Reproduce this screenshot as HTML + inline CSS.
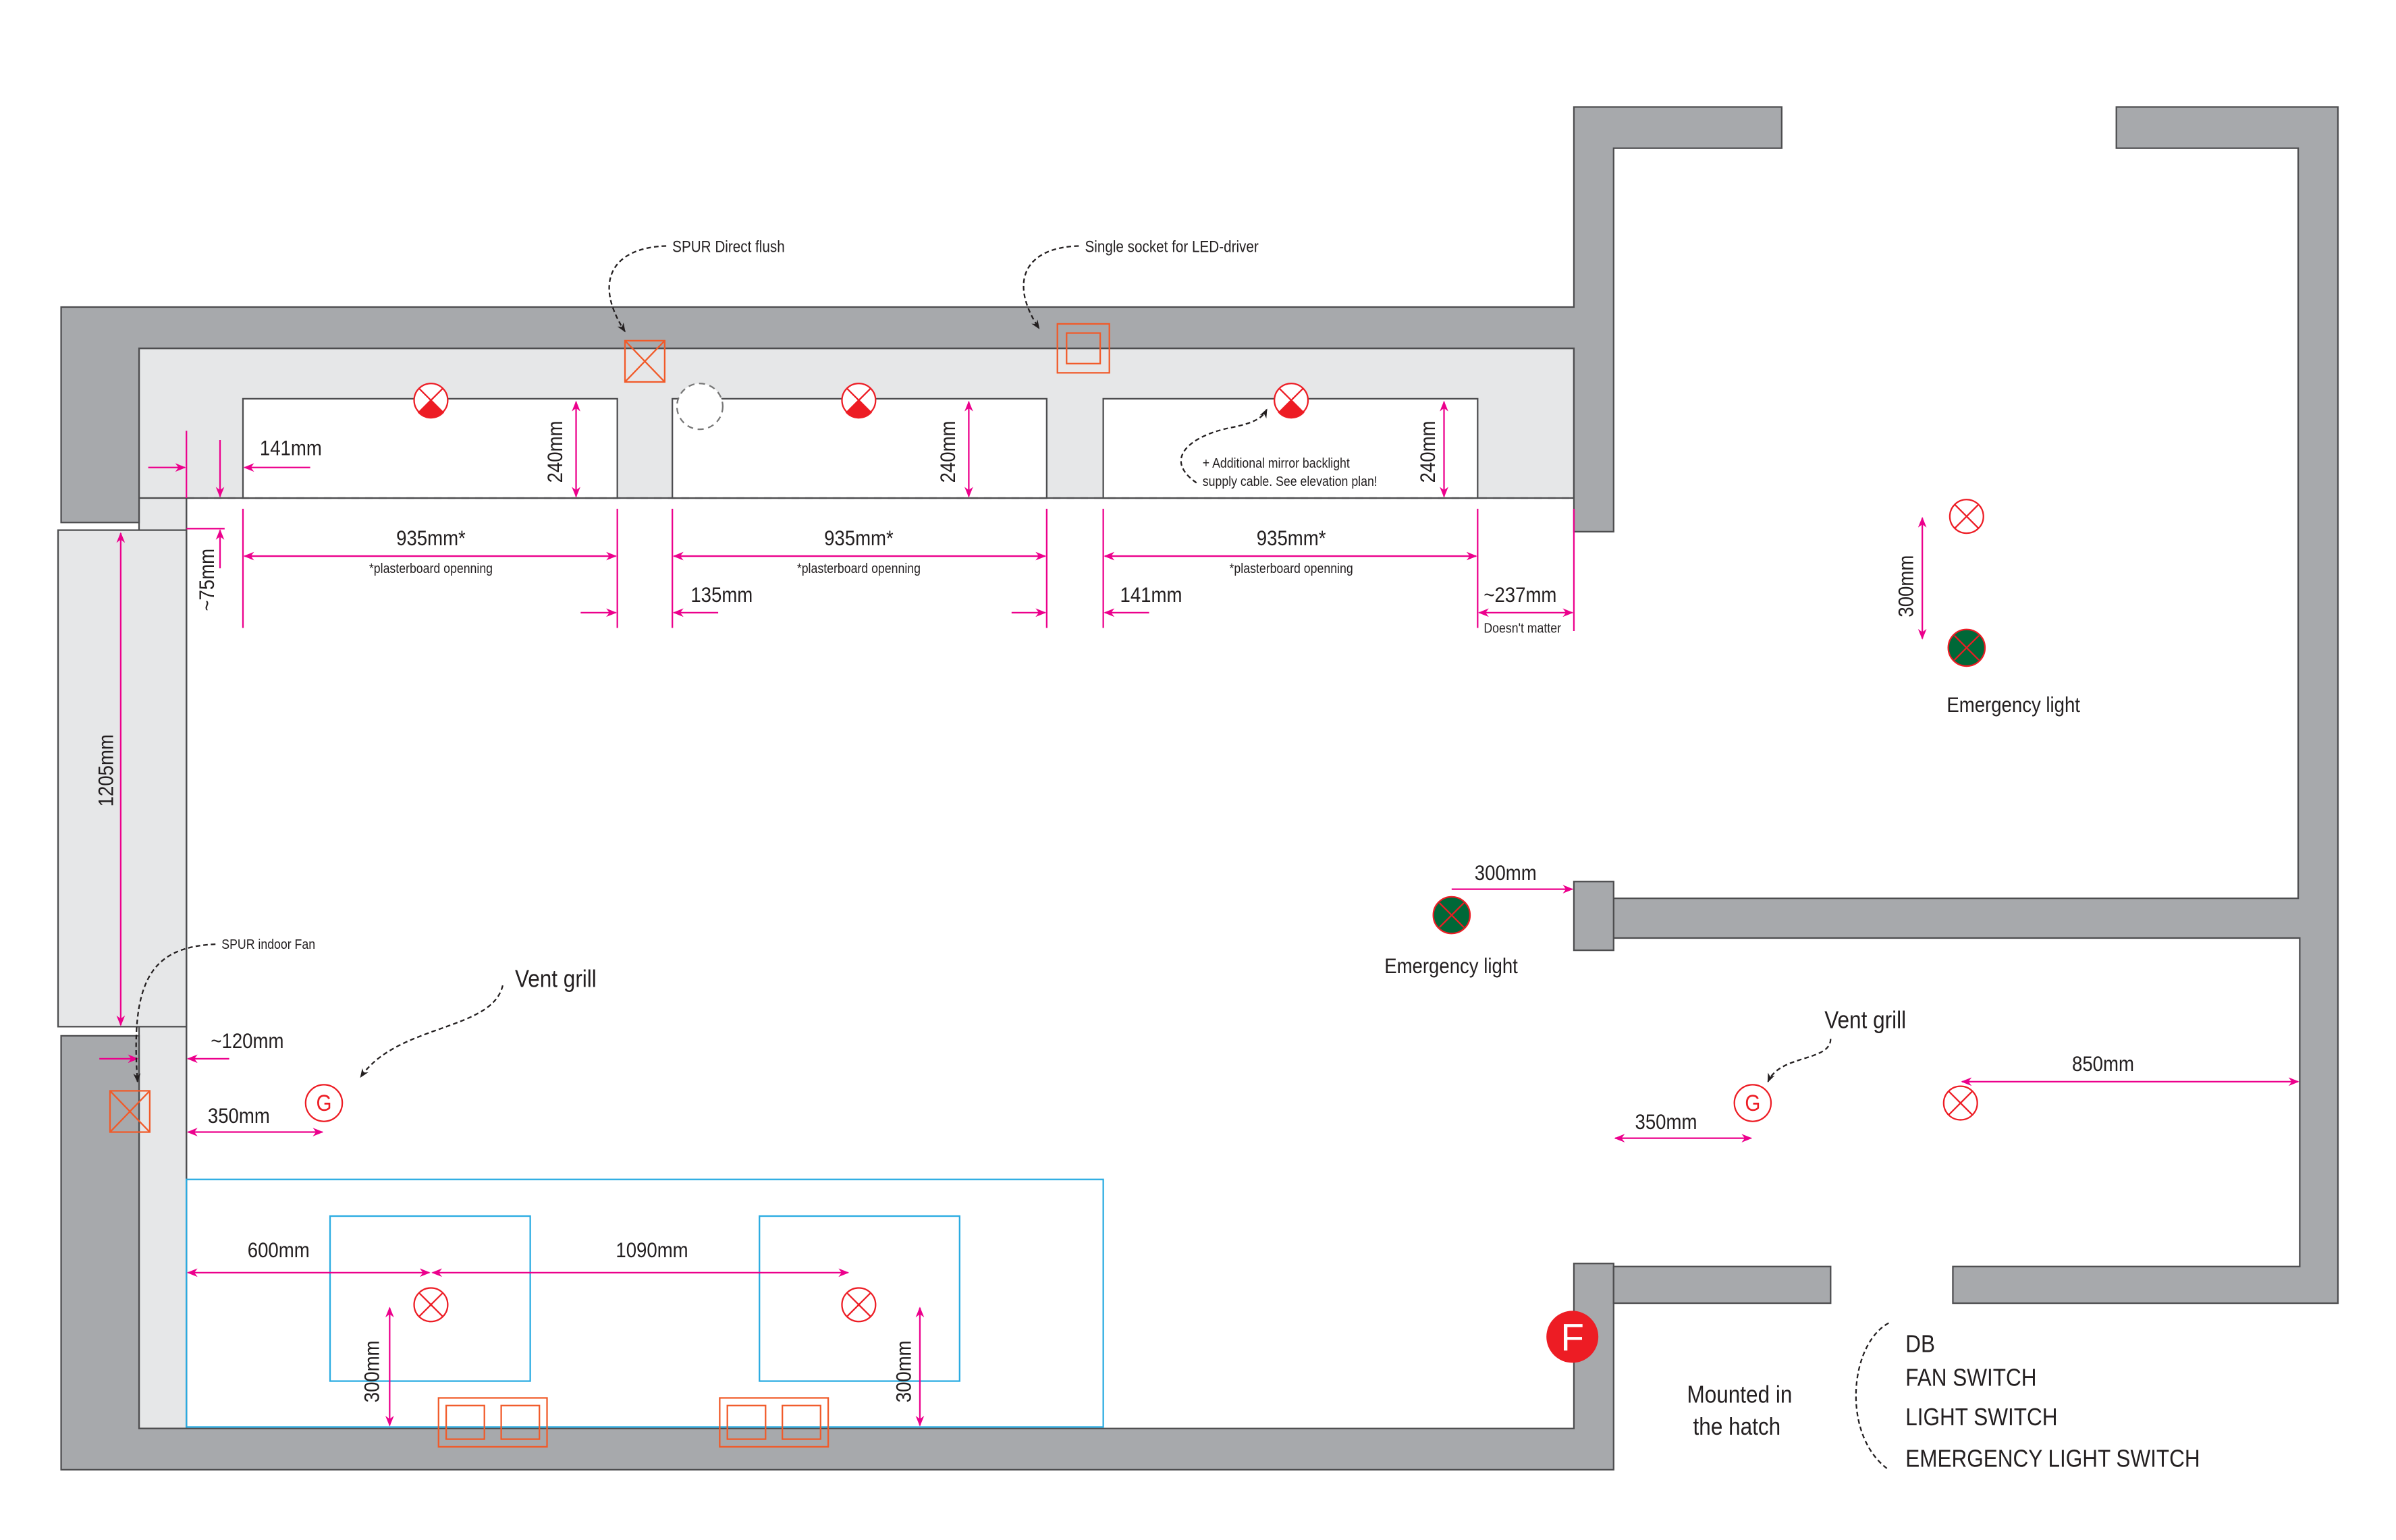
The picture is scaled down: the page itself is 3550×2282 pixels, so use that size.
<!DOCTYPE html>
<html><head><meta charset="utf-8"><style>html,body{margin:0;padding:0;background:#fff}svg{display:block}
text{font-family:"Liberation Sans",sans-serif;fill:#231f20}</style></head>
<body>
<svg width="3550" height="2282" viewBox="0 0 1568 1008" preserveAspectRatio="none" xmlns="http://www.w3.org/2000/svg">
<defs>
<marker id="a" viewBox="0 0 10 10" refX="9" refY="5" markerWidth="7" markerHeight="7" orient="auto-start-reverse"><path d="M0,1 L10,5 L0,9 L3,5z" fill="#ec008c"/></marker>
<marker id="k" viewBox="0 0 10 10" refX="9" refY="5" markerWidth="6" markerHeight="6" orient="auto"><path d="M0,1 L10,5 L0,9 L3,5z" fill="#231f20"/></marker>
</defs>
<g stroke="#4d4d4f" stroke-width="1">
<rect x="91" y="228" width="939" height="98" fill="#e6e7e8"/>
<rect x="91" y="326" width="31" height="609" fill="#e6e7e8"/>
<rect x="38" y="347" width="84" height="325" fill="#e6e7e8"/>
<rect x="159" y="261" width="245" height="65" fill="#fff"/>
<rect x="440" y="261" width="245" height="65" fill="#fff"/>
<rect x="722" y="261" width="245" height="65" fill="#fff"/>
<path d="M40,201 H1030 V70 H1166 V97 H1056 V348 H1030 V228 H91 V342 H40Z" fill="#a7a9ac"/>
<path d="M40,678 H91 V935 H1030 V827 H1056 V962 H40Z" fill="#a7a9ac"/>
<rect x="1056" y="829" width="142" height="24" fill="#a7a9ac"/>
<path d="M1385,70 H1530 V853 H1278 V829 H1505 V614 H1056 V588 H1504 V97 H1385Z" fill="#a7a9ac"/>
<rect x="1030" y="577" width="26" height="45" fill="#a7a9ac"/>
</g>
<line x1="122" y1="326" x2="1030" y2="326" stroke="#4d4d4f" stroke-dasharray="5,4"/>
<line x1="122" y1="326" x2="122" y2="935" stroke="#4d4d4f"/>
<g fill="none" stroke="#29abe2" stroke-width="1">
<rect x="122" y="772" width="600" height="162"/>
<rect x="216" y="796" width="131" height="108"/>
<rect x="497" y="796" width="131" height="108"/>
</g>
<g fill="none" stroke="#f15a29" stroke-width="1">
<rect x="409" y="223" width="26" height="27"/><path d="M409,223 L435,250 M435,223 L409,250"/>
<rect x="692" y="212" width="34" height="32"/><rect x="698" y="218" width="22" height="20"/>
<rect x="72" y="714" width="26" height="27"/><path d="M72,714 L98,741 M98,714 L72,741"/>
<rect x="287" y="915" width="71" height="32"/><rect x="292" y="920" width="25" height="22"/><rect x="328" y="920" width="25" height="22"/>
<rect x="471" y="915" width="71" height="32"/><rect x="476" y="920" width="25" height="22"/><rect x="512" y="920" width="25" height="22"/>
</g>
<circle cx="458" cy="266" r="15" fill="#fff" stroke="#777" stroke-dasharray="4,3"/>
<g stroke="#ed1c24" stroke-width="1">
<g transform="translate(282,262)"><circle r="11" fill="#fff"/><path d="M-8,-8 L8,8 M8,-8 L-8,8"/><path d="M0,0 L-8,8 A11,11 0 0 0 8,8Z" fill="#ed1c24"/></g>
<g transform="translate(562,262)"><circle r="11" fill="#fff"/><path d="M-8,-8 L8,8 M8,-8 L-8,8"/><path d="M0,0 L-8,8 A11,11 0 0 0 8,8Z" fill="#ed1c24"/></g>
<g transform="translate(845,262)"><circle r="11" fill="#fff"/><path d="M-8,-8 L8,8 M8,-8 L-8,8"/><path d="M0,0 L-8,8 A11,11 0 0 0 8,8Z" fill="#ed1c24"/></g>
</g>
<g fill="none" stroke="#ed1c24" stroke-width="1">
<g transform="translate(1287,338)"><circle r="11"/><path d="M-8,-8 L8,8 M8,-8 L-8,8"/></g>
<g transform="translate(1283,722)"><circle r="11"/><path d="M-8,-8 L8,8 M8,-8 L-8,8"/></g>
<g transform="translate(282,854)"><circle r="11"/><path d="M-8,-8 L8,8 M8,-8 L-8,8"/></g>
<g transform="translate(562,854)"><circle r="11"/><path d="M-8,-8 L8,8 M8,-8 L-8,8"/></g>
<g transform="translate(1287,424)"><circle r="12" fill="#006838"/><path d="M-8,-8 L8,8 M8,-8 L-8,8"/></g>
<g transform="translate(950,599)"><circle r="12" fill="#006838"/><path d="M-8,-8 L8,8 M8,-8 L-8,8"/></g>
<circle cx="212" cy="722" r="12" fill="#fff"/>
<circle cx="1147" cy="722" r="12" fill="#fff"/>
</g>
<text transform="translate(212,727) scale(0.87,1)" font-size="15" text-anchor="middle" style="fill:#ed1c24">G</text>
<text transform="translate(1147,727) scale(0.87,1)" font-size="15" text-anchor="middle" style="fill:#ed1c24">G</text>
<circle cx="1029" cy="875" r="17" fill="#ed1c24"/>
<text x="1029" y="884" font-size="25" text-anchor="middle" style="fill:#fff">F</text>
<g stroke="#ec008c" stroke-width="1" fill="none">
<path d="M159,333 V411 M404,333 V411 M440,333 V411 M685,333 V411 M722,333 V411 M967,333 V411 M1030,333 V413 M122,282 V326 M122,346 H147"/>
<path d="M160,364 H403" marker-start="url(#a)" marker-end="url(#a)"/>
<path d="M441,364 H684" marker-start="url(#a)" marker-end="url(#a)"/>
<path d="M723,364 H966" marker-start="url(#a)" marker-end="url(#a)"/>
<path d="M968,401 H1029" marker-start="url(#a)" marker-end="url(#a)"/>
<path d="M380,401 H403" marker-end="url(#a)"/><path d="M470,401 H441" marker-end="url(#a)"/>
<path d="M662,401 H684" marker-end="url(#a)"/><path d="M752,401 H723" marker-end="url(#a)"/>
<path d="M97,306 H121" marker-end="url(#a)"/><path d="M203,306 H160" marker-end="url(#a)"/>
<path d="M144,288 V325" marker-end="url(#a)"/><path d="M144,372 V347" marker-end="url(#a)"/>
<path d="M377,263 V325" marker-start="url(#a)" marker-end="url(#a)"/>
<path d="M634,263 V325" marker-start="url(#a)" marker-end="url(#a)"/>
<path d="M945,263 V325" marker-start="url(#a)" marker-end="url(#a)"/>
<path d="M79,349 V671" marker-start="url(#a)" marker-end="url(#a)"/>
<path d="M1258,339 V418" marker-start="url(#a)" marker-end="url(#a)"/>
<path d="M950,582 H1029" marker-end="url(#a)"/>
<path d="M65,693 H90" marker-end="url(#a)"/><path d="M150,693 H123" marker-end="url(#a)"/>
<path d="M123,741 H211" marker-start="url(#a)" marker-end="url(#a)"/>
<path d="M123,833 H281" marker-start="url(#a)" marker-end="url(#a)"/>
<path d="M283,833 H555" marker-start="url(#a)" marker-end="url(#a)"/>
<path d="M255,856 V933" marker-start="url(#a)" marker-end="url(#a)"/>
<path d="M602,856 V933" marker-start="url(#a)" marker-end="url(#a)"/>
<path d="M1057,745 H1146" marker-start="url(#a)" marker-end="url(#a)"/>
<path d="M1284,708 H1504" marker-start="url(#a)" marker-end="url(#a)"/>
</g>
<g fill="none" stroke="#231f20" stroke-width="1" stroke-dasharray="3,2">
<path d="M436,161 C400,162 388,185 409,217" marker-end="url(#k)"/>
<path d="M706,161 C670,162 660,185 680,215" marker-end="url(#k)"/>
<path d="M783,316 C760,300 780,285 805,280 C820,277 826,274 829,268" marker-end="url(#k)"/>
<path d="M141,618 C100,620 85,640 90,708" marker-end="url(#k)"/>
<path d="M329,645 C322,675 260,670 236,705" marker-end="url(#k)"/>
<path d="M1198,680 C1198,695 1165,690 1157,708" marker-end="url(#k)"/>
<path d="M1236,866 C1210,880 1205,940 1236,962"/>
</g>
<g font-size="14">
<text transform="translate(170,298) scale(0.87,1)">141mm</text>
<text transform="translate(282,357) scale(0.87,1)" text-anchor="middle">935mm*</text>
<text transform="translate(562,357) scale(0.87,1)" text-anchor="middle">935mm*</text>
<text transform="translate(845,357) scale(0.87,1)" text-anchor="middle">935mm*</text>
<text transform="translate(452,394) scale(0.87,1)">135mm</text>
<text transform="translate(733,394) scale(0.87,1)">141mm</text>
<text transform="translate(971,394) scale(0.87,1)">~237mm</text>
<text transform="translate(965,576) scale(0.87,1)">300mm</text>
<text transform="translate(138,686) scale(0.87,1)">~120mm</text>
<text transform="translate(136,735) scale(0.87,1)">350mm</text>
<text transform="translate(162,823) scale(0.87,1)">600mm</text>
<text transform="translate(403,823) scale(0.87,1)">1090mm</text>
<text transform="translate(1070,739) scale(0.87,1)">350mm</text>
<text transform="translate(1356,701) scale(0.87,1)">850mm</text>
<text transform="translate(1274,466) scale(0.87,1)">Emergency light</text>
<text transform="translate(906,637) scale(0.87,1)">Emergency light</text>
<text transform="translate(337,646) scale(0.87,1)" font-size="16">Vent grill</text>
<text transform="translate(1194,673) scale(0.87,1)" font-size="16">Vent grill</text>
<text transform="translate(1104,918) scale(0.87,1)" font-size="16">Mounted in</text>
<text transform="translate(1108,939) scale(0.87,1)" font-size="16">the hatch</text>
<text transform="translate(1247,885) scale(0.87,1)" font-size="16">DB</text>
<text transform="translate(1247,907) scale(0.87,1)" font-size="16">FAN SWITCH</text>
<text transform="translate(1247,933) scale(0.87,1)" font-size="16">LIGHT SWITCH</text>
<text transform="translate(1247,960) scale(0.87,1)" font-size="16">EMERGENCY LIGHT SWITCH</text>
<text transform="translate(368,316) rotate(-90) scale(0.87,1)">240mm</text>
<text transform="translate(625,316) rotate(-90) scale(0.87,1)">240mm</text>
<text transform="translate(939,316) rotate(-90) scale(0.87,1)">240mm</text>
<text transform="translate(140,400) rotate(-90) scale(0.87,1)">~75mm</text>
<text transform="translate(74,528) rotate(-90) scale(0.87,1)">1205mm</text>
<text transform="translate(1252,404) rotate(-90) scale(0.87,1)">300mm</text>
<text transform="translate(248,918) rotate(-90) scale(0.87,1)">300mm</text>
<text transform="translate(596,918) rotate(-90) scale(0.87,1)">300mm</text>
</g>
<g font-size="9">
<text transform="translate(282,375) scale(0.87,1)" text-anchor="middle">*plasterboard openning</text>
<text transform="translate(562,375) scale(0.87,1)" text-anchor="middle">*plasterboard openning</text>
<text transform="translate(845,375) scale(0.87,1)" text-anchor="middle">*plasterboard openning</text>
<text transform="translate(971,414) scale(0.87,1)">Doesn't matter</text>
<text transform="translate(787,306) scale(0.87,1)">+ Additional mirror backlight</text>
<text transform="translate(787,318) scale(0.87,1)">supply cable. See elevation plan!</text>
<text transform="translate(145,621) scale(0.87,1)">SPUR indoor Fan</text>
</g>
<g font-size="10.5">
<text transform="translate(440,165) scale(0.87,1)">SPUR Direct flush</text>
<text transform="translate(710,165) scale(0.87,1)">Single socket for LED-driver</text>
</g>
</svg>
</body></html>
